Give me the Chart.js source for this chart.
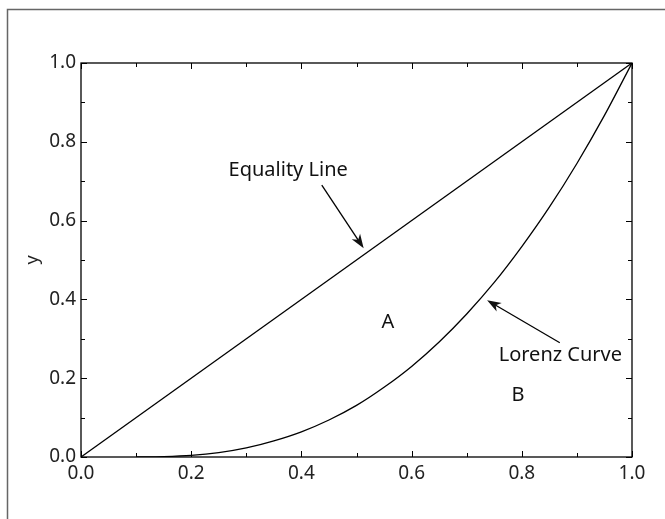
<!DOCTYPE html>
<html>
<head>
<meta charset="utf-8">
<script src="https://cdn.jsdelivr.net/npm/chart.js@4.4.1/dist/chart.umd.min.js"></script>
<style>
  html, body { margin: 0; padding: 0; background: #fff; }
  canvas { display: block; }
</style>
</head>
<body>
<canvas id="lorenzChart" width="665" height="519"></canvas>
<script>
// values
const equalityX = [0, 1];
const equalityY = [0, 1];
const lorenzX = [0.1, 0.15, 0.2, 0.25, 0.3, 0.35, 0.4, 0.45, 0.5, 0.55, 0.6, 0.65, 0.7, 0.75, 0.8, 0.85, 0.9, 0.95, 1.0];
const lorenzY = [0, 0.001, 0.004, 0.011, 0.023, 0.041, 0.064, 0.094, 0.131, 0.177, 0.230, 0.292, 0.363, 0.443, 0.534, 0.634, 0.745, 0.867, 1.0];
const tickValues = [0, 0.2, 0.4, 0.6, 0.8, 1.0];
const minorValues = [0.1, 0.3, 0.5, 0.7, 0.9];

// annotations: text, position, optional arrow (from -> to) in data units
const labels = [
    { text: 'Equality Line', x: 0.376, y: 0.728, arrow: [0.437, 0.69, 0.513, 0.53] },
    { text: 'A', x: 0.557, y: 0.343 },
    { text: 'Lorenz Curve', x: 0.87, y: 0.257, arrow: [0.869, 0.29, 0.737, 0.398] },
    { text: 'B', x: 0.793, y: 0.157 }
];

const FONT = '"Noto Sans", sans-serif';

function toPoints(xs, ys) {
    return xs.map((x, i) => ({ x: x, y: ys[i] }));
}

function drawArrow(ctx, x1, y1, x2, y2) {
    const ang = Math.atan2(y2 - y1, x2 - x1);
    const len = 14, half = 5;
    ctx.beginPath();
    ctx.moveTo(x1, y1);
    ctx.lineTo(x2 - Math.cos(ang) * 8, y2 - Math.sin(ang) * 8);
    ctx.stroke();
    ctx.save();
    ctx.translate(x2, y2);
    ctx.rotate(ang);
    ctx.beginPath();
    ctx.moveTo(0, 0);
    ctx.lineTo(-len, -half);
    ctx.lineTo(-len + 4, 0);
    ctx.lineTo(-len, half);
    ctx.closePath();
    ctx.fill();
    ctx.restore();
}

const framePlugin = {
    id: 'frame',
    afterDraw(chart) {
        const ctx = chart.ctx;
        const xs = chart.scales.x, ys = chart.scales.y;
        const a = chart.chartArea;
        ctx.save();

        // outer figure frame (top and left edges only)
        ctx.strokeStyle = '#666';
        ctx.lineWidth = 1.5;
        ctx.beginPath();
        ctx.moveTo(7.5, chart.height);
        ctx.lineTo(7.5, 9.5);
        ctx.lineTo(chart.width, 9.5);
        ctx.stroke();

        // plot box
        ctx.strokeStyle = '#000';
        ctx.lineWidth = 1.3;
        ctx.strokeRect(a.left, a.top, a.right - a.left, a.bottom - a.top);

        // inward ticks on all four sides
        ctx.lineWidth = 1;
        ctx.beginPath();
        const tick = (v, size) => {
            const px = Math.round(xs.getPixelForValue(v)) + 0.5;
            const py = Math.round(ys.getPixelForValue(v)) + 0.5;
            ctx.moveTo(px, a.bottom); ctx.lineTo(px, a.bottom - size);
            ctx.moveTo(px, a.top); ctx.lineTo(px, a.top + size);
            ctx.moveTo(a.left, py); ctx.lineTo(a.left + size, py);
            ctx.moveTo(a.right, py); ctx.lineTo(a.right - size, py);
        };
        tickValues.forEach(v => tick(v, 6));
        minorValues.forEach(v => tick(v, 4));
        ctx.stroke();

        // text labels and arrows
        ctx.fillStyle = '#111';
        ctx.strokeStyle = '#000';
        ctx.lineWidth = 1.3;
        ctx.font = '20px ' + FONT;
        ctx.textAlign = 'center';
        ctx.textBaseline = 'middle';
        labels.forEach(l => {
            ctx.fillText(l.text, xs.getPixelForValue(l.x), ys.getPixelForValue(l.y));
            if (l.arrow) {
                drawArrow(ctx,
                    xs.getPixelForValue(l.arrow[0]), ys.getPixelForValue(l.arrow[1]),
                    xs.getPixelForValue(l.arrow[2]), ys.getPixelForValue(l.arrow[3]));
            }
        });
        ctx.restore();
    }
};

const data = {
    datasets: [{
        label: 'Equality Line',
        data: toPoints(equalityX, equalityY),
        borderColor: '#000',
        borderWidth: 1.3,
        pointRadius: 0,
        showLine: true
    }, {
        label: 'Lorenz Curve',
        data: toPoints(lorenzX, lorenzY),
        borderColor: '#000',
        borderWidth: 1.3,
        pointRadius: 0,
        showLine: true,
        tension: 0.4,
        cubicInterpolationMode: 'monotone'
    }]
};

const axisTicks = {
    color: '#222',
    font: { family: FONT, size: 19 },
    padding: 5,
    stepSize: 0.2,
    autoSkip: false,
    maxRotation: 0,
    callback: v => Number(v).toFixed(1)
};

const config = {
    type: 'scatter',
    data,
    options: {
        responsive: false,
        animation: false,
        layout: { padding: { top: 63, right: 33, left: 0, bottom: 0 } },
        plugins: { legend: { display: false }, tooltip: { enabled: false } },
        scales: {
            x: {
                type: 'linear', min: 0, max: 1,
                grid: { display: false, drawTicks: false },
                border: { display: false },
                ticks: axisTicks,
                afterFit: s => { s.height = 62; }
            },
            y: {
                type: 'linear', min: 0, max: 1,
                grid: { display: false, drawTicks: false },
                border: { display: false },
                ticks: axisTicks,
                title: { display: true, text: 'y', color: '#222', font: { family: FONT, size: 18 }, padding: { top: 22, bottom: 0 } },
                afterFit: s => { s.width = 81; }
            }
        }
    },
    plugins: [framePlugin]
};

window.addEventListener("load", function () {
    new Chart(document.getElementById('lorenzChart').getContext('2d'), config);
});
</script>
</body>
</html>
